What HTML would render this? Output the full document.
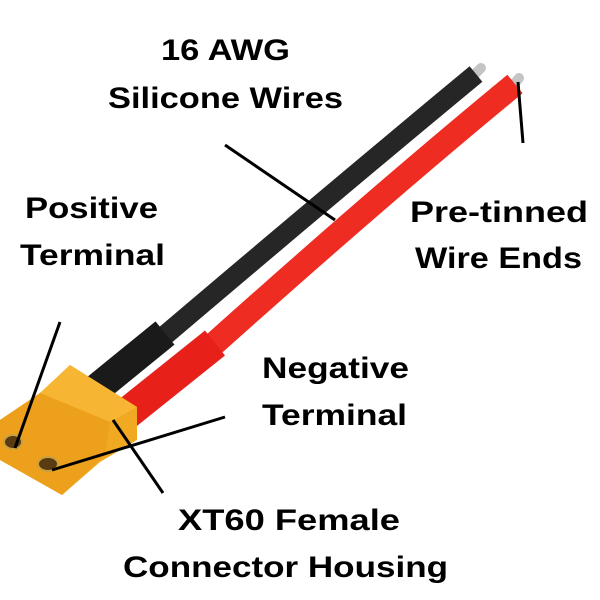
<!DOCTYPE html>
<html><head><style>html,body{margin:0;padding:0;background:#fff}svg{display:block}</style></head>
<body>
<svg width="600" height="600" viewBox="0 0 600 600" xmlns="http://www.w3.org/2000/svg">
<line x1="476" y1="73" x2="481" y2="68" stroke="#c4c4c4" stroke-width="10" stroke-linecap="round"/>
<line x1="515" y1="83" x2="519" y2="78" stroke="#c4c4c4" stroke-width="10" stroke-linecap="round"/>
<path d="M476 74 Q330 195 150 348" stroke="#262626" stroke-width="20" fill="none"/>
<path d="M165 333 L95 390" stroke="#1a1a1a" stroke-width="30" fill="none"/>
<path d="M515 84 Q380 195 205 352" stroke="#ee2c22" stroke-width="24" fill="none"/>
<path d="M215 343 L125 415" stroke="#e8201a" stroke-width="32" fill="none"/>
<polygon points="0,420 40,393 70,365 137,407 137,440 100,462 62,495 0,460" fill="#f2a922"/>
<polygon points="40,393 70,365 137,407 110,422" fill="#f7b534"/>
<polygon points="0,420 40,393 110,422 105,455 62,495 0,460" fill="#eca01c"/>
<ellipse cx="13" cy="442" rx="9" ry="7" fill="#5a3a10" stroke="#c9a040" stroke-width="2"/>
<ellipse cx="48" cy="464" rx="10" ry="7" fill="#5a3a10" stroke="#c9a040" stroke-width="2"/>
<g stroke="#000" stroke-width="3" stroke-linecap="butt">
<line x1="60" y1="322" x2="15" y2="448"/>
<line x1="225" y1="145" x2="335" y2="220"/>
<line x1="518" y1="82" x2="523" y2="143"/>
<line x1="225" y1="417" x2="52" y2="470"/>
<line x1="113" y1="420" x2="163" y2="493"/>
</g>
<g font-family="Liberation Sans, sans-serif" font-weight="bold" font-size="30" fill="#000">
<text x="161" y="60" textLength="129" lengthAdjust="spacingAndGlyphs">16 AWG</text>
<text x="108" y="108" textLength="235" lengthAdjust="spacingAndGlyphs">Silicone Wires</text>
<text x="25" y="218" textLength="133" lengthAdjust="spacingAndGlyphs">Positive</text>
<text x="20" y="265" textLength="145" lengthAdjust="spacingAndGlyphs">Terminal</text>
<text x="410" y="222" textLength="178" lengthAdjust="spacingAndGlyphs">Pre-tinned</text>
<text x="415" y="268" textLength="167" lengthAdjust="spacingAndGlyphs">Wire Ends</text>
<text x="262" y="378" textLength="147" lengthAdjust="spacingAndGlyphs">Negative</text>
<text x="262" y="425" textLength="145" lengthAdjust="spacingAndGlyphs">Terminal</text>
<text x="178" y="530" textLength="222" lengthAdjust="spacingAndGlyphs">XT60 Female</text>
<text x="123" y="577" textLength="325" lengthAdjust="spacingAndGlyphs">Connector Housing</text>
</g>
</svg>
</body></html>
